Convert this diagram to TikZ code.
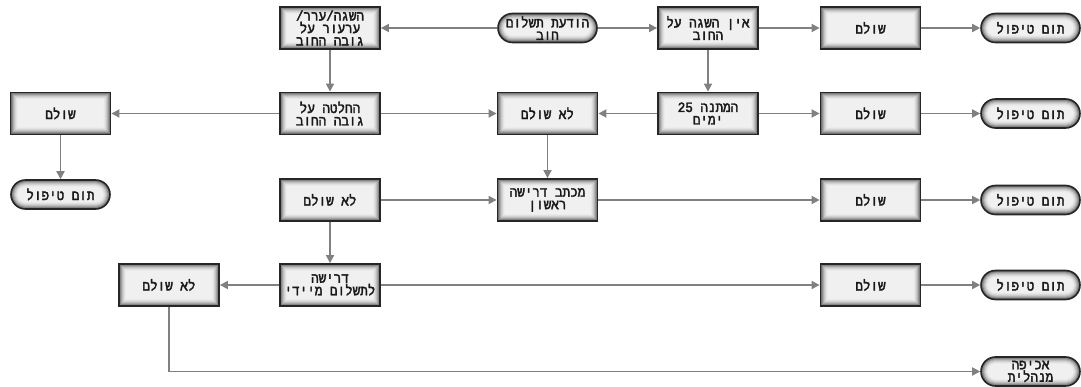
\documentclass[tikz,border=0pt]{standalone}
\usepackage{fontspec}
\newfontfamily\hebfont[Script=Hebrew, FakeStretch=0.9, FakeBold=2.5]{Liberation Mono}
\TeXXeTstate=1
\usetikzlibrary{arrows.meta}
\newcommand\hb[1]{\beginR #1\endR}
\newcommand\vignette[1]{% #1 = corner radius
  \foreach \i/\c in {0/60,1/48,2/36,3/26,4/18,5/12,6/8,7/6}{
    \fill[black!\c, rounded corners={max(#1-\i,0.01)*1pt}]
      ([shift={(\i pt,-\i pt)}]path picture bounding box.north west) rectangle
      ([shift={(-\i pt,\i pt)}]path picture bounding box.south east);
  }}
\tikzset{
  txt/.style={align=center, font=\hebfont\fontsize{14}{12.5}\selectfont, text=black!90, inner sep=1pt},
  box/.style={txt, draw=black!85, line width=1.8pt, minimum width=100pt, minimum height=42pt,
     path picture={\vignette{0}}},
  term/.style={txt, draw=black!85, line width=1.6pt, minimum width=99pt, minimum height=29pt,
     rounded corners=14.5pt, path picture={\vignette{14.5}}},
  conn/.style={draw=black!50, line width=1.7pt, -{Triangle[length=8pt,width=8pt]}},
}
\begin{document}
\begin{tikzpicture}[x=1pt,y=-1pt]
\useasboundingbox (0,0) rectangle (1081,387);
% row 1
\node[box]  (A)   at (330,28)    {\hb{השגה/ערר/}\\\hb{ערעור על}\\\hb{גובה החוב}};
\node[term] (msg) at (547.5,28)  {\hb{הודעת תשלום}\\\hb{חוב}};
\node[box]  (B)   at (708,28)    {\hb{אין השגה על}\\\hb{החוב}};
\node[box]  (C)   at (870.5,28)  {\hb{שולם}};
\node[term] (T1)  at (1030.5,28) {\hb{תום טיפול}};
% row 2
\node[box]  (D)   at (60.5,113.5)  {\hb{שולם}};
\node[box]  (E)   at (330,113.5)   {\hb{החלטה על}\\\hb{גובה החוב}};
\node[box]  (F)   at (547.5,113.5) {\hb{לא שולם}};
\node[box]  (G)   at (708,113.5)   {\hb{המתנה \beginL 25\endL}\\\hb{ימים}};
\node[box]  (H)   at (870.5,113.5) {\hb{שולם}};
\node[term] (T2)  at (1030.5,113.5){\hb{תום טיפול}};
\node[term] (TL)  at (60.5,194.5)  {\hb{תום טיפול}};
% row 3
\node[box]  (I)   at (330,200)     {\hb{לא שולם}};
\node[box]  (J)   at (547.5,200)   {\hb{מכתב דרישה}\\\hb{ראשון}};
\node[box]  (K)   at (870.5,200)   {\hb{שולם}};
\node[term] (T3)  at (1030.5,200)  {\hb{תום טיפול}};
% row 4
\node[box]  (L)   at (169,285)     {\hb{לא שולם}};
\node[box]  (M)   at (330,285)     {\hb{דרישה}\\\hb{לתשלום מיידי}};
\node[box]  (N)   at (870.5,285)   {\hb{שולם}};
\node[term] (T4)  at (1030.5,285)  {\hb{תום טיפול}};
\node[term] (T5)  at (1030.5,371.5){\hb{אכיפה}\\\hb{מנהלית}};
% connectors
\draw[conn] (msg) -- (A);
\draw[conn] (msg) -- (B);
\draw[conn] (B) -- (C);
\draw[conn] (C) -- (T1);
\draw[conn] (A) -- (E);
\draw[conn] (B) -- (G);
\draw[conn] (E) -- (D);
\draw[conn] (E) -- (F);
\draw[conn] (G) -- (F);
\draw[conn] (G) -- (H);
\draw[conn] (H) -- (T2);
\draw[conn] (D) -- (TL);
\draw[conn] (F) -- (J);
\draw[conn] (I) -- (J);
\draw[conn] (J) -- (K);
\draw[conn] (K) -- (T3);
\draw[conn] (I) -- (M);
\draw[conn] (M) -- (L);
\draw[conn] (M) -- (N);
\draw[conn] (N) -- (T4);
\draw[conn] (L.south) |- (T5.west);
\end{tikzpicture}
\end{document}
